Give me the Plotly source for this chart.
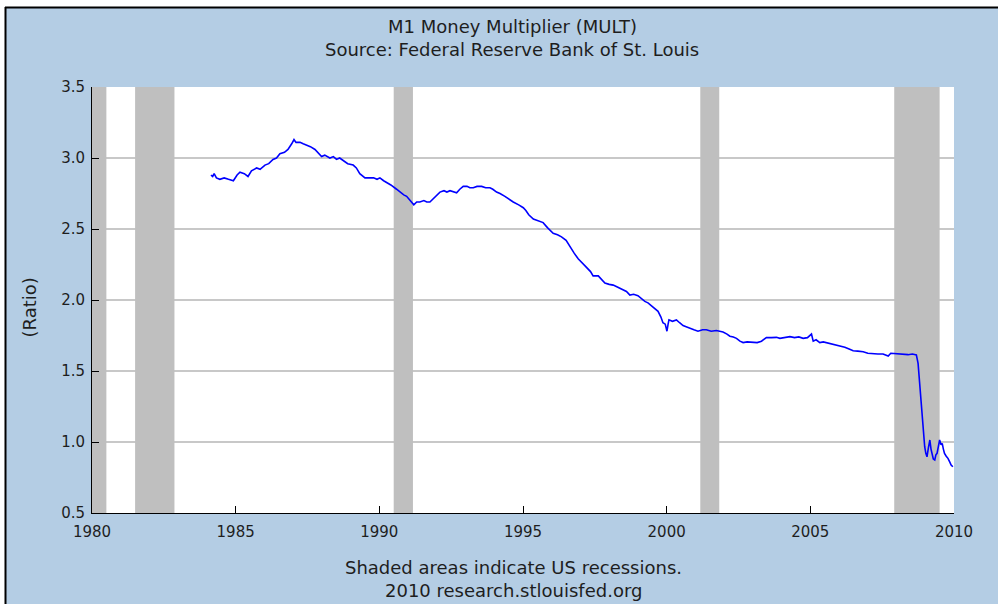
import plotly.graph_objects as go

# Data (decimal year, M1 money multiplier)
years = [
    1984.14, 1984.20, 1984.25, 1984.33, 1984.45, 1984.60, 1984.75, 1984.92,
    1985.05, 1985.15, 1985.30, 1985.43, 1985.55, 1985.73, 1985.85,
    1986.02, 1986.15, 1986.30, 1986.42, 1986.54, 1986.70, 1986.82, 1986.95,
    1987.03, 1987.10, 1987.24, 1987.35, 1987.47, 1987.60, 1987.76, 1987.88, 1987.99,
    1988.10, 1988.28, 1988.40, 1988.51, 1988.62, 1988.74, 1988.90,
    1989.09, 1989.20, 1989.32, 1989.42, 1989.50, 1989.65, 1989.80, 1989.92,
    1990.02, 1990.15, 1990.25, 1990.40, 1990.60, 1990.72, 1990.85, 1990.95,
    1991.08, 1991.20, 1991.30, 1991.41, 1991.55, 1991.65, 1991.76, 1991.90,
    1992.00, 1992.11, 1992.25, 1992.35, 1992.46, 1992.58, 1992.69, 1992.80, 1992.92,
    1993.05, 1993.15, 1993.27, 1993.40, 1993.56, 1993.70, 1993.85, 1993.95,
    1994.08, 1994.20, 1994.37, 1994.50, 1994.66, 1994.85,
    1995.01, 1995.10, 1995.20, 1995.36, 1995.50, 1995.70, 1995.85,
    1996.05, 1996.20, 1996.34, 1996.50, 1996.63, 1996.78, 1996.92,
    1997.05, 1997.21, 1997.35, 1997.44, 1997.62, 1997.75, 1997.85,
    1998.00, 1998.14, 1998.30, 1998.49, 1998.60, 1998.72, 1998.85,
    1999.00, 1999.12, 1999.24, 1999.35, 1999.47, 1999.60, 1999.70, 1999.80, 1999.87, 1999.95,
    2000.01, 2000.05, 2000.08, 2000.20, 2000.34, 2000.45, 2000.57, 2000.70, 2000.80, 2000.95,
    2001.09, 2001.25, 2001.38, 2001.55, 2001.73, 2001.85, 2001.96,
    2002.10, 2002.20, 2002.32, 2002.43, 2002.55, 2002.66, 2002.80,
    2003.01, 2003.15, 2003.30, 2003.40, 2003.47, 2003.65, 2003.82, 2003.94,
    2004.10, 2004.29, 2004.45, 2004.60, 2004.75, 2004.90,
    2005.04, 2005.10, 2005.20, 2005.33, 2005.45, 2005.62, 2005.75, 2005.91,
    2006.05, 2006.20, 2006.35, 2006.49, 2006.65, 2006.84,
    2007.00, 2007.18, 2007.35, 2007.53, 2007.71, 2007.80, 2007.88,
    2008.05, 2008.23, 2008.40, 2008.55, 2008.69, 2008.75, 2008.81, 2008.87, 2008.93, 2008.98,
    2009.02, 2009.06, 2009.11, 2009.16, 2009.20, 2009.24, 2009.28, 2009.33, 2009.37, 2009.41,
    2009.46, 2009.50, 2009.55, 2009.59, 2009.63, 2009.67, 2009.73, 2009.79, 2009.85, 2009.90, 2009.96,
]
mult = [
    2.88, 2.87, 2.89, 2.86, 2.85, 2.86, 2.85, 2.84,
    2.88, 2.90, 2.89, 2.87, 2.91, 2.93, 2.92,
    2.95, 2.96, 2.99, 3.00, 3.03, 3.04, 3.06, 3.10,
    3.13, 3.11, 3.11, 3.10, 3.09, 3.08, 3.06, 3.03, 3.01,
    3.02, 3.00, 3.01, 2.99, 3.00, 2.98, 2.96,
    2.95, 2.93, 2.89, 2.87, 2.86, 2.86, 2.86, 2.85,
    2.86, 2.84, 2.83, 2.81, 2.78, 2.76, 2.74, 2.73,
    2.70, 2.67, 2.69, 2.69, 2.70, 2.69, 2.69, 2.72,
    2.74, 2.76, 2.77, 2.76, 2.77, 2.76, 2.755, 2.78, 2.80,
    2.80, 2.79, 2.79, 2.80, 2.80, 2.79, 2.79, 2.78,
    2.76, 2.75, 2.73, 2.71, 2.69, 2.67,
    2.65, 2.63, 2.60, 2.57, 2.56, 2.545, 2.51,
    2.47, 2.46, 2.445, 2.42, 2.375, 2.33, 2.29,
    2.26, 2.23, 2.20, 2.17, 2.17, 2.14, 2.12,
    2.11, 2.105, 2.09, 2.07, 2.06, 2.035, 2.04,
    2.03, 2.01, 1.99, 1.98, 1.96, 1.94, 1.92, 1.88, 1.84, 1.83,
    1.78, 1.83, 1.86, 1.85, 1.86, 1.84, 1.82, 1.81, 1.80, 1.79,
    1.78, 1.79, 1.79, 1.78, 1.785, 1.78, 1.775,
    1.76, 1.745, 1.74, 1.73, 1.71, 1.70, 1.705,
    1.705, 1.70, 1.71, 1.725, 1.735, 1.735, 1.737, 1.73,
    1.735, 1.742, 1.735, 1.74, 1.73, 1.735,
    1.76, 1.71, 1.72, 1.70, 1.705, 1.697, 1.69, 1.683,
    1.675, 1.667, 1.655, 1.643, 1.64, 1.636,
    1.625, 1.62, 1.62, 1.62, 1.605, 1.625, 1.624,
    1.62, 1.62, 1.615, 1.62, 1.613, 1.554, 1.39, 1.225, 1.108, 0.967,
    0.92, 0.896, 0.96, 1.014, 0.95, 0.92, 0.88, 0.873, 0.91, 0.92,
    0.97, 1.014, 0.98, 0.99, 0.95, 0.92, 0.90, 0.885, 0.86, 0.838, 0.826,
]

# NBER recessions (start, end) in decimal years
rec_start = [1980.0, 1981.5, 1990.5, 2001.17, 2007.92]
rec_end = [1980.5, 1982.87, 1991.17, 2001.83, 2009.5]

x_ticks = [1980, 1985, 1990, 1995, 2000, 2005, 2010]
y_ticks = [0.5, 1.0, 1.5, 2.0, 2.5, 3.0, 3.5]

title_lines = ["M1 Money Multiplier (MULT)", "Source: Federal Reserve Bank of St. Louis"]
footer_lines = ["Shaded areas indicate US recessions.", "2010 research.stlouisfed.org"]

BG = "#b4cde4"
TXT = "#1e1e1e"
FONT = "DejaVu Sans"

W, H = 998, 604
ML, MR, MT, MB = 92, 44, 87, 91
PW, PH = W - ML - MR, H - MT - MB


def px_x(p):
    return (p - ML) / PW


def px_y(p):
    return (H - MB - p) / PH


fig = go.Figure()
fig.add_trace(go.Scatter(x=years, y=mult, mode="lines",
                         line=dict(color="#0000ff", width=1.6),
                         showlegend=False, hoverinfo="x+y"))

shapes = []
for s, e in zip(rec_start, rec_end):
    shapes.append(dict(type="rect", xref="x", yref="y", x0=s, x1=e, y0=0.5, y1=3.5,
                       fillcolor="#bfbfbf", line=dict(width=0), layer="between"))

# outer white margin and black frame (top and left edges)
shapes.append(dict(type="rect", xref="paper", yref="paper", x0=px_x(0), x1=px_x(W),
                   y0=px_y(7), y1=px_y(0), fillcolor="white", line=dict(width=0), layer="above"))
shapes.append(dict(type="rect", xref="paper", yref="paper", x0=px_x(0), x1=px_x(5),
                   y0=px_y(H), y1=px_y(0), fillcolor="white", line=dict(width=0), layer="above"))
shapes.append(dict(type="line", xref="paper", yref="paper", x0=px_x(5), x1=px_x(W),
                   y0=px_y(7.5), y1=px_y(7.5), line=dict(color="black", width=2), layer="above"))
shapes.append(dict(type="line", xref="paper", yref="paper", x0=px_x(5.5), x1=px_x(5.5),
                   y0=px_y(H), y1=px_y(7), line=dict(color="black", width=2), layer="above"))

annotations = []
for txt, py in zip(title_lines, [27, 49.5]):
    annotations.append(dict(text=txt, xref="paper", yref="paper", x=px_x(512), y=px_y(py),
                            xanchor="center", yanchor="middle", showarrow=False,
                            font=dict(family=FONT, size=18, color=TXT)))
for txt, py in zip(footer_lines, [567, 590]):
    annotations.append(dict(text=txt, xref="paper", yref="paper", x=px_x(513), y=px_y(py),
                            xanchor="center", yanchor="middle", showarrow=False,
                            font=dict(family=FONT, size=18, color=TXT)))
annotations.append(dict(text="(Ratio)", xref="paper", yref="paper", x=px_x(28.5), y=px_y(308),
                        xanchor="center", yanchor="middle", showarrow=False, textangle=-90,
                        font=dict(family=FONT, size=18, color=TXT)))

fig.update_layout(
    width=W, height=H,
    margin=dict(l=ML, r=MR, t=MT, b=MB, pad=0),
    paper_bgcolor=BG, plot_bgcolor="white",
    shapes=shapes, annotations=annotations,
    font=dict(family=FONT, size=15, color=TXT),
    xaxis=dict(range=[1980, 2010], tickvals=x_ticks, ticktext=[str(v) for v in x_ticks],
               ticks="inside", ticklen=7, tickcolor="black", tickwidth=1,
               showline=True, linecolor="black", linewidth=1,
               showgrid=False, zeroline=False, ticklabelstandoff=5,
               tickfont=dict(family=FONT, size=15, color=TXT), fixedrange=True),
    yaxis=dict(range=[0.5, 3.5], tickvals=y_ticks, ticktext=[f"{v:.1f}" for v in y_ticks],
               ticks="inside", ticklen=7, tickcolor="black", tickwidth=1,
               showline=True, linecolor="black", linewidth=1,
               showgrid=True, gridcolor="#c8c8c8", gridwidth=1.5, zeroline=False,
               ticklabelstandoff=3,
               tickfont=dict(family=FONT, size=15, color=TXT), fixedrange=True),
)

fig.write_html("out.html", config={"displayModeBar": False},
               post_script="document.body.style.margin='0';document.body.style.overflow='hidden';")
